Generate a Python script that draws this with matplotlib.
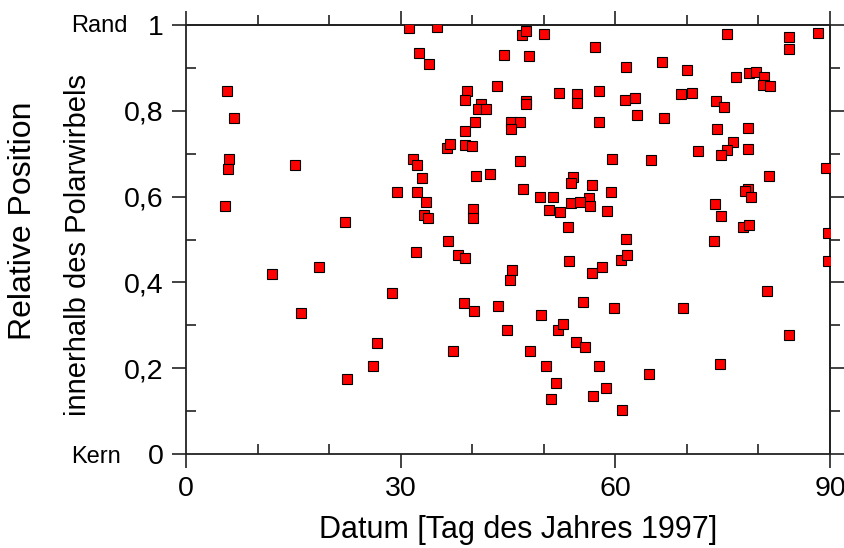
import matplotlib
matplotlib.use("Agg")
import matplotlib.pyplot as plt
from matplotlib.ticker import NullFormatter

# %% Data

day = [
    5.69, 6.75, 6.01, 5.87, 15.19, 29.45, 5.49, 22.22, 18.59, 12.02, 28.75, 16.11,
    26.65, 26.09, 22.46,
    31.17, 35.04, 46.92, 47.48, 32.56, 44.40, 47.87, 33.96, 43.51, 39.23, 39.04,
    47.49, 47.49, 41.23, 40.85, 41.89, 40.43, 45.42, 46.61, 45.42, 38.99, 36.48,
    36.90, 38.99, 40.01, 31.73, 32.33, 46.68, 32.94, 40.53, 42.53, 32.33, 47.10,
    33.54, 33.31, 33.86, 40.11, 40.07,
    36.58, 32.10, 37.97, 39.04, 45.61, 45.24, 38.81, 40.29, 43.57, 44.82, 37.36,
    48.01,
    49.99, 57.21, 61.54, 66.49, 52.13, 54.61, 54.61, 57.68, 61.36, 62.80, 63.08,
    66.81, 57.68, 59.50, 64.99, 54.13, 53.81, 56.70, 59.36, 49.52, 51.29, 56.28,
    53.81, 55.11, 56.42, 50.78, 52.31, 58.80, 53.35,
    61.50, 53.53, 60.84, 61.59, 58.14, 56.74, 55.49, 59.82, 49.60, 52.03, 52.69,
    54.51, 55.77, 50.36, 57.68, 64.67, 51.71, 58.71, 56.88, 50.97, 60.94,
    75.61, 84.24, 84.24, 88.29, 70.07, 76.91, 78.65, 79.71, 80.78, 80.68, 81.58,
    69.23, 70.72, 74.04, 75.15, 74.21, 78.59, 76.49, 75.61, 74.73, 71.60, 78.59,
    89.45, 81.52, 78.59, 78.13, 78.92, 73.94, 74.77, 77.81, 78.73, 89.77,
    73.79, 89.77, 81.25, 69.47, 84.28, 74.64,
]

position = [
    0.845, 0.783, 0.688, 0.665, 0.673, 0.611, 0.578, 0.540, 0.437, 0.419, 0.376, 0.328,
    0.258, 0.206, 0.175,
    0.993, 0.995, 0.976, 0.985, 0.934, 0.931, 0.927, 0.909, 0.857, 0.847, 0.826,
    0.823, 0.815, 0.815, 0.804, 0.805, 0.773, 0.774, 0.775, 0.757, 0.752, 0.714,
    0.723, 0.720, 0.719, 0.687, 0.674, 0.684, 0.643, 0.647, 0.652, 0.611, 0.617,
    0.587, 0.556, 0.551, 0.571, 0.551,
    0.497, 0.472, 0.463, 0.458, 0.430, 0.406, 0.351, 0.334, 0.346, 0.288, 0.240,
    0.240,
    0.980, 0.949, 0.902, 0.913, 0.842, 0.840, 0.819, 0.846, 0.826, 0.829, 0.791,
    0.784, 0.773, 0.688, 0.685, 0.645, 0.632, 0.628, 0.611, 0.600, 0.598, 0.597,
    0.585, 0.587, 0.579, 0.568, 0.565, 0.567, 0.530,
    0.502, 0.450, 0.453, 0.464, 0.437, 0.422, 0.355, 0.340, 0.324, 0.290, 0.302,
    0.260, 0.250, 0.205, 0.206, 0.187, 0.165, 0.154, 0.136, 0.128, 0.103,
    0.980, 0.971, 0.945, 0.981, 0.894, 0.879, 0.889, 0.891, 0.878, 0.861, 0.857,
    0.839, 0.841, 0.822, 0.808, 0.757, 0.761, 0.728, 0.709, 0.696, 0.707, 0.712,
    0.666, 0.648, 0.618, 0.612, 0.598, 0.582, 0.554, 0.529, 0.534, 0.516,
    0.496, 0.449, 0.379, 0.341, 0.278, 0.209,
]

x_major = [0, 30, 60, 90]
x_minor = [10, 20, 40, 50, 70, 80]
y_major = [0, 0.2, 0.4, 0.6, 0.8, 1.0]
y_minor = [0.1, 0.3, 0.5, 0.7, 0.9]
y_labels = ["0", "0,2", "0,4", "0,6", "0,8", "1"]

# %% Plot

plt.rcParams["font.family"] = ["Liberation Sans", "DejaVu Sans"]

W, H = 845, 548
fig = plt.figure(figsize=(W / 100, H / 100), dpi=100)
ax = fig.add_axes([186 / W, (H - 454) / H, 644 / W, 429 / H])

ax.plot(
    day,
    position,
    ls="none",
    marker="s",
    ms=6.6,
    mfc="#FF0000",
    mec="black",
    mew=0.8,
    zorder=3,
)

ax.set_xlim(0, 90)
ax.set_ylim(0, 1)

ax.set_xticks(x_major, labels=[str(v) for v in x_major])
ax.set_xticks(x_minor, minor=True)
ax.set_yticks(y_major, labels=y_labels)
ax.set_yticks(y_minor, minor=True)

spine_color = "#222222"
for s in ax.spines.values():
    s.set_linewidth(1.3)
    s.set_color(spine_color)

ax.tick_params(which="major", direction="out", length=10, width=1.2,
               color=spine_color, labelsize=20.5, pad=6)
ax.tick_params(which="minor", direction="in", length=7, width=1.2,
               color=spine_color)

# mirrored ticks on top and right point outward
top = ax.secondary_xaxis("top")
top.set_xticks(x_major)
top.set_xticks(x_minor, minor=True)
top.xaxis.set_major_formatter(NullFormatter())
top.tick_params(which="major", direction="out", length=10, width=1.2, color=spine_color)
top.tick_params(which="minor", direction="out", length=7, width=1.2, color=spine_color)
top.spines["top"].set_linewidth(1.3)
top.spines["top"].set_color(spine_color)

right = ax.secondary_yaxis("right")
right.set_yticks(y_major)
right.set_yticks(y_minor, minor=True)
right.yaxis.set_major_formatter(NullFormatter())
right.tick_params(which="major", direction="out", length=10, width=1.2, color=spine_color)
right.tick_params(which="minor", direction="out", length=7, width=1.2, color=spine_color)
right.spines["right"].set_linewidth(1.3)
right.spines["right"].set_color(spine_color)

# labels
fig.text(518 / W, 1 - 530 / H, "Datum [Tag des Jahres 1997]",
         ha="center", va="center", fontsize=22)
fig.text(23 / W, 1 - 221 / H, "Relative Position",
         rotation=90, ha="center", va="center", fontsize=23)
fig.text(78 / W, 1 - 245 / H, "innerhalb des Polarwirbels",
         rotation=90, ha="center", va="center", fontsize=21)
fig.text(71 / W, 1 - 32 / H, "Rand", ha="left", va="baseline", fontsize=17)
fig.text(71 / W, 1 - 463 / H, "Kern", ha="left", va="baseline", fontsize=17)

fig.savefig("out.png", dpi=100)
